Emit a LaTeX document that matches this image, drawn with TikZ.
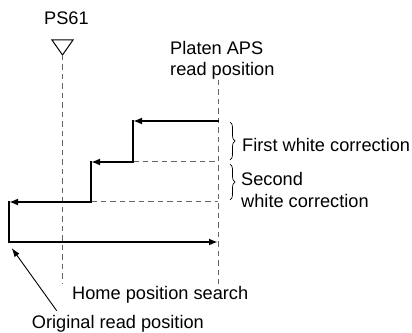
\documentclass[tikz,border=0pt]{standalone}
\usepackage{fontspec}
\setmainfont{Liberation Sans}
\usetikzlibrary{arrows.meta,decorations.pathreplacing,calc}

\begin{document}
\begin{tikzpicture}[
  x=1pt, y=1pt,
  font=\fontsize{18.2}{21.7}\selectfont,
  lbl/.style={inner sep=0pt, anchor=base west, align=left},
  guide/.style={draw=black!60, line width=1pt, dash pattern=on 5.5pt off 4pt},
  scan/.style={line width=2.3pt, line cap=rect},
  scanarrow/.style={scan, -{Latex[length=9pt,width=7pt]}},
  pointer/.style={line width=0.9pt, -{Latex[length=9pt,width=6pt]}},
  bracket/.style={decorate, decoration={brace, amplitude=5pt}, line width=0.7pt}
]
\useasboundingbox (0,0) rectangle (412,332);

% sensor and read positions
\coordinate (sensor) at (62.5,277);
\coordinate (platen) at (218,252);
\node (ps) [lbl] at (44,307) {PS61};
\draw[line width=1pt] (sensor) -- ++(-10.5,15) -- ++(21,0) -- cycle;
\node (aps) [lbl] at (170,256) {Platen APS\\read position};

\draw[guide] (sensor) -- (sensor |- 0,48);
\draw[guide] (platen) -- (platen |- 0,48);

% scan steps
\coordinate (s1) at (218,211);
\coordinate (c1) at (133,211);
\coordinate (c2) at (133,170);
\coordinate (c3) at (91,170);
\coordinate (c4) at (91,130);
\coordinate (c5) at (9,130);
\coordinate (home) at (9,90);
\coordinate (end) at (218,90);

\draw[guide] (c2) -- (platen |- c2);
\draw[guide] (c4) -- (platen |- c4);

\draw[scanarrow] (s1) -- (c1);
\draw[scan] (c1) -- (c2);
\draw[scanarrow] (c2) -- (c3);
\draw[scan] (c3) -- (c4);
\draw[scanarrow] (c4) -- (c5);
\draw[scan] (c5) -- (home);
\draw[scanarrow] (home) -- (end);

% corrections
\draw[bracket] (230,210) -- (230,172);
\draw[bracket] (230,168) -- (230,132);
\node (first) [lbl] at (242,180) {First white correction};
\node (second) [lbl] at (241,124.3) {Second\\white correction};

% labels below
\node (search) [lbl] at (72,33) {Home position search};
\node (orig) [lbl] at (31.7,3.9) {Original read position};
\draw[pointer] ($(orig.north west)+(25,4)$) -- ($(home)+(2.7,-6)$);

\end{tikzpicture}
\end{document}
